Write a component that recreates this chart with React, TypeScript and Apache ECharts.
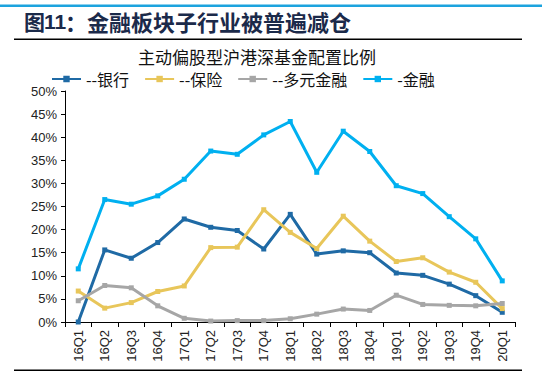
import React, { useEffect, useRef } from "react";
import * as echarts from "echarts";

const categories = ["16Q1","16Q2","16Q3","16Q4","17Q1","17Q2","17Q3","17Q4","18Q1","18Q2","18Q3","18Q4","19Q1","19Q2","19Q3","19Q4","20Q1"];
const bank = [0, 15.6, 13.8, 17.2, 22.3, 20.5, 19.8, 15.8, 23.3, 14.7, 15.4, 15.0, 10.6, 10.1, 8.2, 5.7, 2.1];
const insurance = [6.7, 3.0, 4.2, 6.6, 7.8, 16.1, 16.2, 24.3, 19.4, 15.9, 22.9, 17.5, 13.1, 13.9, 10.8, 8.6, 2.9];
const diversified = [4.6, 7.9, 7.4, 3.5, 0.8, 0.2, 0.3, 0.3, 0.7, 1.7, 2.8, 2.5, 5.8, 3.8, 3.6, 3.5, 4.0];
const finance = [11.5, 26.5, 25.5, 27.3, 30.9, 37.0, 36.3, 40.5, 43.4, 32.4, 41.3, 36.9, 29.5, 27.8, 22.8, 18.0, 8.9];
const seriesNames = ["--银行", "--保险", "--多元金融", "-金融"];
const colors = ["#1f6aa5", "#e8c65a", "#a6a6a6", "#00b0f0"];

const cjk = "'Noto Sans CJK SC', sans-serif";
const latin = "'Liberation Sans', Arial, sans-serif";

export default function App() {
  const ref = useRef<HTMLDivElement>(null);
  useEffect(() => {
    if (!ref.current) return;
    const chart = echarts.init(ref.current, null, { renderer: "svg" });
    const data = [bank, insurance, diversified, finance];
    chart.setOption({
      animation: false,
      backgroundColor: "#ffffff",
      title: {
        text: "主动偏股型沪港深基金配置比例",
        left: 255,
        textAlign: "center",
        top: 44,
        padding: 2,
        textStyle: { fontFamily: cjk, fontSize: 17, fontWeight: "normal", color: "#111", lineHeight: 20 },
      },
      legend: {
        left: 51,
        top: 70,
        padding: 0,
        itemWidth: 29,
        itemHeight: 8,
        itemGap: 15,
        textStyle: { fontFamily: cjk, fontSize: 16, color: "#111", lineHeight: 18 },
        data: seriesNames,
      },
      grid: { left: 65, right: 32.5, top: 91, bottom: 53, containLabel: false },
      xAxis: {
        type: "category",
        data: categories,
        boundaryGap: true,
        axisLine: { lineStyle: { color: "#000", width: 1 } },
        axisTick: { show: true, alignWithLabel: false, length: 5, inside: false, lineStyle: { color: "#000" } },
        axisLabel: { rotate: 90, fontFamily: latin, fontSize: 13, color: "#222", margin: 8, interval: 0 },
      },
      yAxis: {
        type: "value",
        min: 0,
        max: 50,
        interval: 5,
        splitLine: { show: false },
        axisLine: { show: true, lineStyle: { color: "#000", width: 1 } },
        axisTick: { show: true, length: 4, lineStyle: { color: "#000" } },
        axisLabel: { formatter: "{value}%", fontFamily: latin, fontSize: 13, color: "#222", margin: 8 },
      },
      series: data.map((d, i) => ({
        name: seriesNames[i],
        type: "line",
        data: d,
        symbol: "rect",
        symbolSize: 5,
        lineStyle: { width: 3, color: colors[i] },
        itemStyle: { color: colors[i] },
        z: i === 3 ? 5 : 3 + i * 0.1,
      })),
      graphic: [
        { type: "rect", shape: { x: 0, y: 4.5, width: 542, height: 2.5 }, style: { fill: "#1ca3de" } },
        {
          type: "text",
          x: 24,
          y: 21,
          style: { text: "图", fontFamily: cjk, fontSize: 21, fontWeight: "bold", fill: "#1b2a4a", verticalAlign: "middle" },
        },
        {
          type: "text",
          x: 44,
          y: 21,
          style: { text: "11", fontFamily: latin, fontSize: 21, fontWeight: "bold", fill: "#1b2a4a", verticalAlign: "middle" },
        },
        {
          type: "text",
          x: 65,
          y: 21,
          style: { text: "：金融板块子行业被普遍减仓", fontFamily: cjk, fontSize: 22, fontWeight: "bold", fill: "#1b2a4a", verticalAlign: "middle" },
        },
        { type: "rect", shape: { x: 14, y: 38.5, width: 508, height: 1.5 }, style: { fill: "#000" } },
        { type: "rect", shape: { x: 14, y: 369.5, width: 508, height: 1.5 }, style: { fill: "#000" } },
      ],
    });
    return () => chart.dispose();
  }, []);
  return <div ref={ref} style={{ position: "absolute", left: 0, top: 0, width: 548, height: 375 }} />;
}
